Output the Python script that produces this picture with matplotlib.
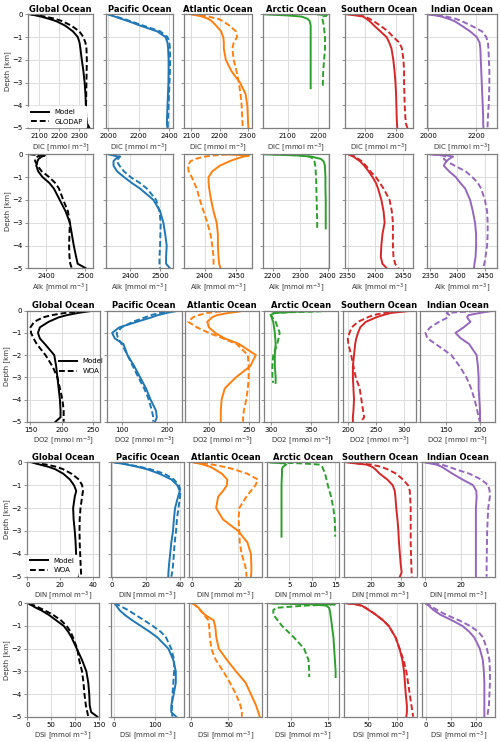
import matplotlib
matplotlib.use("Agg")
import matplotlib.pyplot as plt
import numpy as np

# depth grids [km]
z = [0, 0.05, 0.1, 0.2, 0.3, 0.5, 0.75, 1.0, 1.25, 1.5, 2.0, 2.5, 3.0, 3.5, 4.0, 4.5, 4.8, 5.0]
z_arc = [0, 0.05, 0.1, 0.2, 0.3, 0.5, 1.0, 1.5, 2.0, 2.5, 3.0, 3.25]

basins = ["Global Ocean", "Pacific Ocean", "Atlantic Ocean", "Arctic Ocean", "Southern Ocean", "Indian Ocean"]
colors = ["black", "#1f77b4", "#ff7f0e", "#2ca02c", "#d62728", "#9467bd"]

# ---- DIC (model / GLODAP) ----
dic_mod_glo = [2055, 2085, 2110, 2150, 2185, 2230, 2268, 2292, 2301, 2305, 2312, 2320, 2326, 2330, 2332, 2334, 2338, 2350]
dic_obs_glo = [2060, 2095, 2130, 2180, 2215, 2260, 2300, 2320, 2330, 2335, 2337, 2336, 2335, 2334, 2333, 2333, 2335, 2340]
dic_mod_pac = [1998, 2020, 2042, 2085, 2130, 2210, 2320, 2375, 2388, 2392, 2395, 2395, 2394, 2391, 2388, 2385, 2384, 2388]
dic_obs_pac = [2000, 2025, 2050, 2100, 2145, 2230, 2340, 2388, 2400, 2404, 2405, 2404, 2401, 2398, 2395, 2392, 2390, 2390]
dic_mod_atl = [2100, 2120, 2138, 2160, 2172, 2188, 2205, 2213, 2215, 2215, 2222, 2242, 2272, 2292, 2298, 2300, 2301, 2302]
dic_obs_atl = [2100, 2135, 2160, 2195, 2212, 2235, 2258, 2262, 2250, 2245, 2250, 2260, 2268, 2274, 2278, 2280, 2281, 2282]
dic_mod_arc = [2020, 2100, 2145, 2165, 2172, 2175, 2175, 2175, 2175, 2175, 2175, 2175]
dic_obs_arc = [2195, 2228, 2212, 2213, 2215, 2218, 2222, 2222, 2219, 2216, 2215, 2215]
dic_mod_sou = [2140, 2170, 2194, 2205, 2215, 2230, 2250, 2270, 2279, 2286, 2292, 2296, 2299, 2301, 2302, 2303, 2304, 2305]
dic_obs_sou = [2150, 2180, 2200, 2215, 2228, 2250, 2275, 2292, 2312, 2320, 2325, 2327, 2327, 2328, 2329, 2331, 2333, 2338]
dic_mod_ind = [2000, 2030, 2055, 2085, 2110, 2140, 2175, 2203, 2215, 2218, 2220, 2222, 2224, 2226, 2228, 2230, 2230, 2231]
dic_obs_ind = [2000, 2040, 2075, 2115, 2140, 2180, 2225, 2243, 2250, 2252, 2254, 2256, 2256, 2255, 2253, 2250, 2249, 2248]

# ---- Alk (model / GLODAP) ----
alk_mod_glo = [2381, 2397, 2389, 2381, 2378, 2375, 2380, 2391, 2408, 2420, 2435, 2450, 2461, 2466, 2471, 2477, 2481, 2502]
alk_obs_glo = [2358, 2385, 2378, 2372, 2372, 2378, 2389, 2408, 2423, 2433, 2444, 2456, 2461, 2460, 2459, 2460, 2462, 2466]
alk_mod_pac = [2328, 2345, 2361, 2352, 2345, 2345, 2357, 2380, 2405, 2433, 2478, 2500, 2511, 2517, 2522, 2520, 2520, 2533]
alk_obs_pac = [2333, 2350, 2367, 2360, 2356, 2365, 2380, 2402, 2432, 2456, 2487, 2498, 2502, 2501, 2500, 2498, 2498, 2500]
alk_mod_atl = [2430, 2471, 2462, 2450, 2440, 2424, 2412, 2406, 2406, 2407, 2410, 2414, 2419, 2421, 2421, 2422, 2423, 2425]
alk_obs_atl = [2436, 2415, 2400, 2385, 2377, 2373, 2374, 2379, 2383, 2387, 2392, 2398, 2404, 2409, 2412, 2414, 2414, 2414]
alk_mod_arc = [2170, 2290, 2340, 2375, 2385, 2390, 2392, 2392, 2393, 2393, 2393, 2393]
alk_obs_arc = [2200, 2300, 2335, 2348, 2352, 2355, 2358, 2359, 2360, 2361, 2362, 2362]
alk_mod_sou = [2351, 2355, 2360, 2366, 2372, 2380, 2388, 2395, 2401, 2405, 2411, 2415, 2417, 2413, 2411, 2410, 2413, 2421]
alk_obs_sou = [2353, 2358, 2363, 2369, 2375, 2383, 2391, 2401, 2408, 2415, 2426, 2430, 2432, 2432, 2432, 2433, 2436, 2442]
alk_mod_ind = [2350, 2380, 2392, 2385, 2380, 2375, 2385, 2397, 2405, 2414, 2423, 2428, 2432, 2434, 2434, 2433, 2431, 2430]
alk_obs_ind = [2353, 2372, 2380, 2375, 2380, 2395, 2415, 2427, 2437, 2443, 2450, 2454, 2455, 2455, 2454, 2451, 2449, 2446]

# ---- DO2 (model / WOA) ----
do2_mod_glo = [250, 238, 226, 208, 195, 179, 165, 162, 165, 173, 188, 191, 193, 195, 197, 198, 198, 190]
do2_obs_glo = [249, 225, 205, 184, 170, 156, 150, 151, 155, 160, 174, 185, 193, 197, 201, 203, 203, 203]
do2_mod_pac = [226, 212, 200, 180, 166, 134, 95, 79, 85, 104, 113, 128, 141, 154, 164, 176, 178, 174]
do2_obs_pac = [215, 200, 185, 165, 152, 125, 100, 89, 92, 100, 113, 125, 137, 150, 160, 167, 170, 170]
do2_mod_atl = [243, 236, 225, 210, 204, 198, 200, 208, 220, 238, 259, 252, 234, 220, 216, 215, 215, 215]
do2_obs_atl = [226, 210, 198, 187, 180, 174, 185, 200, 218, 235, 249, 250, 250, 249, 247, 244, 243, 243]
do2_mod_arc = [375, 330, 305, 300, 301, 303, 305, 306, 305, 305, 306, 306]
do2_obs_arc = [385, 340, 300, 300, 302, 306, 311, 308, 303, 302, 302, 303]
do2_mod_sou = [314, 295, 276, 262, 250, 232, 222, 218, 215, 213, 211, 209, 209, 210, 211, 210, 209, 209]
do2_obs_sou = [304, 285, 264, 245, 235, 218, 207, 203, 200, 201, 206, 210, 214, 221, 224, 227, 229, 223]
do2_mod_ind = [220, 210, 200, 183, 181, 186, 176, 164, 172, 184, 195, 197, 198, 198, 199, 200, 200, 200]
do2_obs_ind = [205, 175, 151, 155, 153, 140, 127, 120, 123, 135, 158, 170, 180, 187, 192, 196, 198, 200]

# ---- DIN (model / WOA) ----
din_mod_glo = [2.6, 5, 7.7, 13, 17, 22, 26, 28.5, 29.9, 29, 28, 28.3, 29, 29.5, 29.8, 30.0, 30.3, 30.9]
din_obs_glo = [3.6, 7, 11.7, 18, 21.8, 27, 31.5, 33.5, 34, 33.5, 32.5, 32, 31.9, 32, 32.3, 32.6, 32.8, 33]
din_mod_pac = [1, 5, 8.8, 15, 20.5, 28, 35, 38.5, 40, 39, 37.2, 36.5, 36, 35, 34.3, 33.6, 33.3, 33.2]
din_obs_pac = [1, 5.5, 9.8, 16.5, 22.4, 31, 36.5, 39.5, 40.4, 40.2, 39.2, 38.3, 37.8, 37, 36.5, 36, 35.5, 35]
din_mod_atl = [0.7, 3, 5, 8, 9.8, 13, 15.3, 15.2, 13.5, 11.4, 10.5, 13.5, 20, 24, 25.5, 25.7, 25.7, 25.5]
din_obs_atl = [0.7, 5, 9, 14, 18, 24, 28.5, 27.5, 25.5, 23.6, 20.5, 20.2, 20.5, 20.7, 21.5, 23, 23.5, 23.6]
din_mod_arc = [0.8, 4.0, 4.3, 3.6, 3.4, 3.4, 3.3, 3.3, 3.3, 3.3, 3.3, 3.3]
din_obs_arc = [0.8, 8, 11.6, 12.2, 12.4, 12.8, 13.4, 14.1, 14.6, 14.9, 15.0, 15.0]
din_mod_sou = [12, 15, 18.6, 20.5, 21.5, 23, 25.5, 27.3, 28, 28.2, 28.5, 28.9, 29.2, 29.4, 29.7, 30, 30.3, 29.7]
din_obs_sou = [12.6, 16, 20.3, 23.5, 25.5, 28.5, 30.7, 32.4, 33, 33.1, 33.3, 33.3, 33.3, 33.3, 33.4, 33.5, 33.6, 33.7]
din_mod_ind = [0, 3, 6.5, 9.5, 11.5, 15.5, 21, 27, 28.8, 29, 28.6, 28.6, 28.6, 28.6, 28.6, 28.6, 28.6, 28.6]
din_obs_ind = [0, 4.5, 9.3, 13.5, 17, 25, 31.5, 35.5, 36.3, 36.4, 35.5, 35.2, 34.9, 34.8, 34.7, 34.6, 34.6, 34.6]

# ---- DSi (model / WOA) ----
dsi_mod_glo = [2, 5, 10, 18, 28, 44, 60, 76, 85, 92, 103, 114, 123, 127, 129, 130, 133, 146]
dsi_obs_glo = [5, 9, 15, 25, 35, 53, 70, 82, 90, 95, 104, 108, 114, 117, 119, 122, 125, 127]
dsi_mod_pac = [2, 4, 6, 10, 14, 26, 45, 66, 87, 106, 133, 145, 151, 151, 146, 140, 140, 152]
dsi_obs_pac = [2, 8, 14, 24, 35, 52, 74, 95, 114, 127, 140, 147, 147, 145, 143, 142, 141, 143]
dsi_mod_atl = [1.3, 4, 6, 10, 12.4, 18, 30, 32, 33, 33.6, 37, 48, 60, 73, 80, 87, 90, 92]
dsi_obs_atl = [2, 4, 6, 9, 12, 17, 23, 24, 24.5, 25, 27, 33, 43, 52, 60, 66, 68, 68]
dsi_mod_arc = [7.2, 13.0, 14.8, 15.2, 15.3, 15.4, 15.6, 15.8, 15.9, 16.0, 16.1, 16.1]
dsi_obs_arc = [7.5, 16.0, 12.0, 8.0, 7.6, 7.6, 8.8, 10.4, 11.8, 12.4, 12.5, 12.5]
dsi_mod_sou = [11.8, 30, 38, 45, 51, 63, 76, 86, 92, 98, 105, 110, 113, 114.5, 116, 118, 118, 117]
dsi_obs_sou = [12, 28, 37, 45, 52, 63, 76, 86, 92, 98, 105, 112, 117, 120, 123, 126, 128, 129]
dsi_mod_ind = [0, 3, 6, 11, 16, 29, 52, 73, 86, 96, 107, 113, 115, 116, 116, 116, 116, 116]
dsi_obs_ind = [0, 4, 9, 16, 23, 40, 66, 88, 104, 113, 121, 126, 127, 127, 126, 125, 123, 122]

rows = [
    ("DIC", [dic_mod_glo, dic_mod_pac, dic_mod_atl, dic_mod_arc, dic_mod_sou, dic_mod_ind],
     [dic_obs_glo, dic_obs_pac, dic_obs_atl, dic_obs_arc, dic_obs_sou, dic_obs_ind]),
    ("Alk", [alk_mod_glo, alk_mod_pac, alk_mod_atl, alk_mod_arc, alk_mod_sou, alk_mod_ind],
     [alk_obs_glo, alk_obs_pac, alk_obs_atl, alk_obs_arc, alk_obs_sou, alk_obs_ind]),
    ("DO2", [do2_mod_glo, do2_mod_pac, do2_mod_atl, do2_mod_arc, do2_mod_sou, do2_mod_ind],
     [do2_obs_glo, do2_obs_pac, do2_obs_atl, do2_obs_arc, do2_obs_sou, do2_obs_ind]),
    ("DIN", [din_mod_glo, din_mod_pac, din_mod_atl, din_mod_arc, din_mod_sou, din_mod_ind],
     [din_obs_glo, din_obs_pac, din_obs_atl, din_obs_arc, din_obs_sou, din_obs_ind]),
    ("DSi", [dsi_mod_glo, dsi_mod_pac, dsi_mod_atl, dsi_mod_arc, dsi_mod_sou, dsi_mod_ind],
     [dsi_obs_glo, dsi_obs_pac, dsi_obs_atl, dsi_obs_arc, dsi_obs_sou, dsi_obs_ind]),
]
obs_names = ["GLODAP", "GLODAP", "WOA", "WOA", "WOA"]

xlims = [
    [(2044, 2369), (1985, 2422), (2075, 2313), (2018, 2236), (2135, 2357), (1993, 2288)],
    [(2353, 2521), (2320, 2542), (2367, 2475), (2164, 2406), (2345, 2469), (2344, 2472)],
    [(144, 261), (67, 233), (170, 263), (292, 383), (191, 320), (112, 222)],
    [(-0.4, 44), (-1, 42.5), (-1.2, 30.3), (0.07, 15.9), (11.2, 35.3), (-1.9, 39.3)],
    [(-1.4, 148), (-8, 171), (-3, 95), (6.7, 16.6), (7.6, 135.3), (-8, 137)],
]
xticks = [
    [[2100, 2200, 2300], [2000, 2200, 2400], [2100, 2200, 2300], [2100, 2200], [2200, 2300], [2000, 2200]],
    [[2400, 2500], [2400, 2500], [2400, 2450], [2200, 2300, 2400], [2350, 2400, 2450], [2350, 2400, 2450]],
    [[150, 200, 250], [100, 200], [200, 250], [300, 350], [200, 250, 300], [150, 200]],
    [[0, 20, 40], [0, 20, 40], [0, 20], [5, 10, 15], [20, 30], [0, 20]],
    [[0, 50, 100, 150], [0, 100], [0, 50], [10, 15], [50, 100], [0, 50, 100]],
]

# axes placement in pixels (top, bottom) per row, (left, right) per column
W, H = 500, 742
row_tb = [(14.3, 128), (154.3, 268.3), (310.7, 421.7), (462.3, 576.7), (603.3, 716.7)]
cols_a = [(27.7, 93.3), (106, 172.7), (184.3, 251.5), (262.7, 329.3), (345, 413.3), (426.7, 497)]
cols_b = [(26.7, 100), (106.7, 181.7), (185, 259), (264.3, 338), (342.7, 415.7), (420, 495)]
cols_c = [(26.7, 99.3), (110.5, 184), (189, 262), (266.7, 339.3), (344.3, 416.7), (421.5, 495)]
row_cols = [cols_a, cols_a, cols_b, cols_c, cols_c]
show_title = [True, False, True, True, False]

fig = plt.figure(figsize=(W / 100, H / 100), dpi=100)
spine_c = "#7f7f7f"

for r, (var, mods, obss) in enumerate(rows):
    top, bot = row_tb[r]
    for c in range(6):
        l, rt = row_cols[r][c]
        ax = fig.add_axes([l / W, 1 - bot / H, (rt - l) / W, (bot - top) / H])
        zz = z_arc if c == 3 else z
        depth = -np.array(zz)
        ax.plot(mods[c], depth, color=colors[c], lw=1.4, label="Model")
        ax.plot(obss[c], depth, color=colors[c], lw=1.4, ls="--", dashes=(3.0, 1.5), label=obs_names[r])
        ax.set_xlim(*xlims[r][c])
        ax.set_ylim(-5, 0)
        ax.set_xticks(xticks[r][c])
        ax.set_yticks([0, -1, -2, -3, -4, -5])
        ax.grid(True, color="#dcdcdc", lw=0.7)
        ax.set_axisbelow(True)
        for s in ax.spines.values():
            s.set_color(spine_c)
            s.set_linewidth(0.9)
        ax.tick_params(labelsize=5, length=2, width=0.6, color=spine_c, pad=1.5)
        ax.set_xlabel(f"{var} [mmol m$^{{-3}}$]", fontsize=5, labelpad=1.5, color="#333333")
        if c == 0:
            ax.set_ylabel("Depth [km]", fontsize=5, labelpad=1, color="#333333")
        else:
            ax.set_yticklabels([])
        if show_title[r]:
            ax.set_title(basins[c], fontsize=6, fontweight="bold", pad=2)
        if c == 0 and r in (0, 2, 3):
            if r == 2:
                ax.legend(loc="center left", bbox_to_anchor=(0.38, 0.5), fontsize=5,
                          handlelength=2.6, frameon=False, borderaxespad=0.2, labelspacing=0.5)
            else:
                ax.legend(loc="lower left", fontsize=5, handlelength=2.6, framealpha=1,
                          edgecolor="white", borderaxespad=0.1, labelspacing=0.5)

fig.savefig("out.png", dpi=100)
